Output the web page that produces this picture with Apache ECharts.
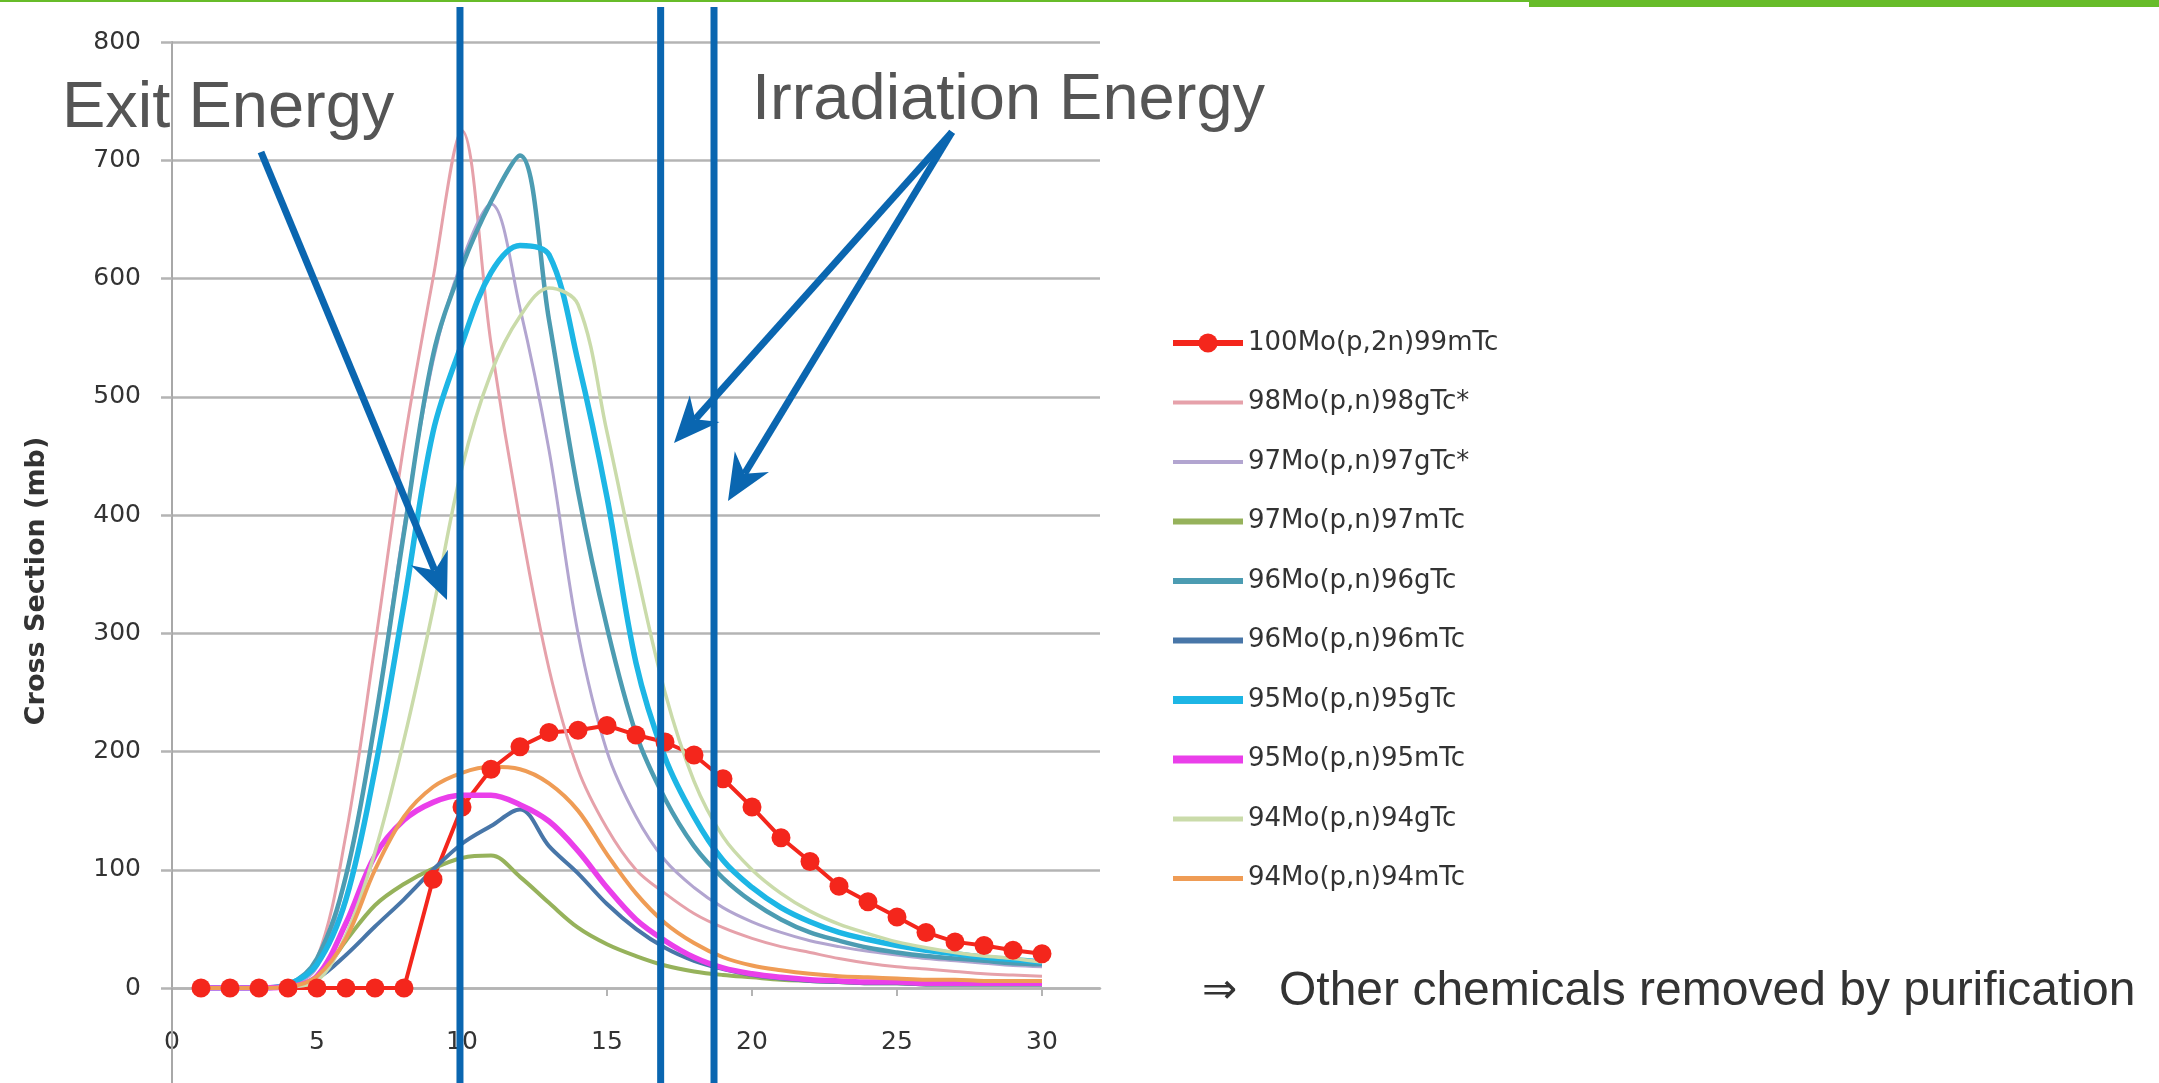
<!DOCTYPE html>
<html>
<head>
<meta charset="utf-8">
<title>Mo(p,x)Tc cross sections</title>
<script src="https://cdn.jsdelivr.net/npm/echarts@6/dist/echarts.min.js"></script>
<style>
  html, body { margin: 0; padding: 0; background: #fff; }
  #chart { width: 2159px; height: 1083px; }
</style>
</head>
<body>
<div id="chart"></div>
<script>
// proton energy (MeV) and cross sections (mb)
var energy = [1, 2, 3, 4, 5, 6, 7, 8, 9, 10, 11, 12, 13, 14, 15, 16, 17, 18, 19, 20, 21, 22, 23, 24, 25, 26, 27, 28, 29, 30];
var xTicks = [0, 5, 10, 15, 20, 25, 30];

var seriesNames = ['100Mo(p,2n)99mTc', '98Mo(p,n)98gTc*', '97Mo(p,n)97gTc*', '97Mo(p,n)97mTc', '96Mo(p,n)96gTc',
    '96Mo(p,n)96mTc', '95Mo(p,n)95gTc', '95Mo(p,n)95mTc', '94Mo(p,n)94gTc', '94Mo(p,n)94mTc'];

var mo100_99m = [0, 0, 0, 0, 0, 0, 0, 0, 92, 153, 185, 204, 216, 218, 222, 214, 208, 197, 177, 153, 127, 107, 86, 73, 60, 47, 39, 36, 32, 29];
var mo98_98g = [0, 0, 0, 2, 25, 130, 290, 460, 600, 725, 545, 395, 270, 185, 135, 100, 80, 63, 51, 42, 35, 30, 25, 21, 18, 16, 14, 12, 11, 10];
var mo97_97g = [0, 0, 0, 2, 18, 95, 225, 390, 530, 615, 663, 575, 455, 300, 200, 145, 108, 85, 68, 56, 47, 40, 35, 31, 28, 25, 23, 21, 19, 18];
var mo97_97m = [0, 0, 0, 1, 8, 40, 70, 88, 101, 110, 112, 94, 72, 51, 37, 27, 19, 14, 11, 9, 7, 6, 5, 4, 4, 3, 3, 3, 3, 3];
var mo96_96g = [0, 0, 0, 3, 25, 95, 225, 385, 535, 610, 665, 704, 565, 420, 305, 215, 160, 120, 93, 73, 58, 47, 40, 34, 30, 27, 25, 23, 21, 20];
var mo96_96m = [0, 0, 0, 1, 8, 28, 52, 75, 100, 122, 137, 151, 120, 97, 71, 50, 34, 23, 16, 11, 8, 6, 5, 4, 4, 3, 3, 3, 3, 3];
var mo95_95g = [0, 0, 0, 3, 20, 75, 185, 325, 470, 545, 605, 628, 620, 530, 415, 275, 195, 145, 108, 85, 68, 56, 47, 41, 36, 32, 29, 26, 24, 22];
var mo95_95m = [0, 0, 0, 1, 10, 55, 112, 142, 157, 163, 163, 155, 141, 116, 85, 58, 40, 26, 17, 12, 9, 7, 6, 5, 5, 4, 4, 4, 4, 4];
var mo94_94g = [0, 0, 0, 1, 6, 45, 115, 210, 320, 440, 520, 568, 592, 578, 470, 355, 250, 175, 128, 100, 80, 65, 54, 46, 39, 34, 30, 27, 25, 22];
var mo94_94m = [0, 0, 0, 1, 10, 42, 100, 145, 170, 182, 187, 185, 173, 150, 113, 80, 55, 38, 26, 19, 15, 12, 10, 9, 8, 7, 7, 6, 6, 6];

// exit energy and the two irradiation energies marked on the slide
var markEnergy = [9.93, 16.85, 18.69];

var allValues = [mo100_99m, mo98_98g, mo97_97g, mo97_97m, mo96_96g, mo96_96m, mo95_95g, mo95_95m, mo94_94g, mo94_94m];
var colors = ['#F4261C', '#E6A1AA', '#B2A5D0', '#96B25B', '#4C9CB2', '#4876A8', '#1DB6E5', '#EA3FEA', '#CADBAA', '#EF9C55'];
var widths = [4, 3, 3, 4, 4.5, 4, 5.5, 5.5, 3.5, 4];
var legendThick = [0, 4, 4, 6, 6, 6, 8, 8, 5, 5];

var BLUE = '#0A66B0';
var FONT = 'DejaVu Sans';

function makeSeries() {
    var out = [];
    allValues.forEach(function (vals, i) {
        var s = {
            name: seriesNames[i],
            type: 'line',
            data: energy.map(function (e, k) { return [e, vals[k]]; }),
            itemStyle: { color: colors[i] },
            lineStyle: { color: colors[i], width: widths[i] },
            emphasis: { disabled: true }
        };
        if (i === 0) {
            s.symbol = 'circle';
            s.symbolSize = 19;
            s.smooth = false;
        } else {
            s.symbol = 'none';
            s.smooth = 0.35;
        }
        out.push(s);
    });
    return out;
}

function legendData() {
    return seriesNames.map(function (n, i) {
        if (i === 0) return { name: n };
        return { name: n, icon: 'path://M0,0H70V' + legendThick[i] + 'H0Z' };
    });
}

// arrow drawn as a shaft plus a stealth head, pixel coords of the slide
function arrow(x1, y1, x2, y2) {
    var dx = x2 - x1, dy = y2 - y1;
    var len = Math.sqrt(dx * dx + dy * dy);
    var ux = dx / len, uy = dy / len;
    var px = -uy, py = ux;
    var L = 46, W = 20, N = 32;
    return [{
        type: 'polyline', z: 100,
        shape: { points: [[x1, y1], [x2 - N * ux, y2 - N * uy]] },
        style: { stroke: BLUE, lineWidth: 7, fill: null }
    }, {
        type: 'polygon', z: 100,
        shape: { points: [[x2, y2], [x2 - L * ux + W * px, y2 - L * uy + W * py],
            [x2 - N * ux, y2 - N * uy], [x2 - L * ux - W * px, y2 - L * uy - W * py]] },
        style: { fill: BLUE }
    }];
}

var chart = echarts.init(document.getElementById('chart'));

var option = {
    animation: false,
    backgroundColor: '#fff',
    grid: { left: 172, right: 1059, top: 42, bottom: 95 },
    legend: {
        orient: 'vertical',
        left: 1165,
        top: 325,
        itemWidth: 70,
        itemHeight: 24,
        itemGap: 33.5,
        selectedMode: false,
        lineStyle: { width: 6 },
        textStyle: { fontFamily: FONT, fontSize: 26, color: '#333333' },
        data: legendData()
    },
    xAxis: {
        type: 'value',
        min: 0,
        max: 32,
        interval: 5,
        axisLine: { show: true, lineStyle: { color: '#B4B4B4', width: 2.5 } },
        axisTick: { show: true, length: 8, customValues: xTicks, lineStyle: { color: '#B4B4B4', width: 2 } },
        axisLabel: { customValues: xTicks, margin: 42, fontFamily: FONT, fontSize: 25, color: '#333333' },
        splitLine: { show: false }
    },
    yAxis: {
        type: 'value',
        min: 0,
        max: 800,
        interval: 100,
        axisLine: { show: true, lineStyle: { color: '#A8A8A8', width: 2 } },
        axisTick: { show: true, length: 11, lineStyle: { color: '#B4B4B4', width: 2.5 } },
        axisLabel: { margin: 31, fontFamily: FONT, fontSize: 25, color: '#333333' },
        splitLine: { show: true, lineStyle: { color: '#B4B4B4', width: 2.5 } }
    },
    series: makeSeries()
};

chart.setOption(option);

// annotations placed after the axes exist
var zero = chart.convertToPixel({ gridIndex: 0 }, [0, 0]);
var graphics = [
    { type: 'rect', z: 100, shape: { x: 0, y: 0, width: 1529, height: 2 }, style: { fill: '#67BC29' } },
    { type: 'rect', z: 100, shape: { x: 1529, y: 0, width: 630, height: 7 }, style: { fill: '#67BC29' } },
    { type: 'line', z: 1, shape: { x1: zero[0], y1: zero[1], x2: zero[0], y2: 1083 },
        style: { stroke: '#A8A8A8', lineWidth: 2 } },
    { type: 'text', z: 100, x: 37, y: 581, rotation: Math.PI / 2,
        style: { text: 'Cross Section (mb)', fontFamily: FONT, fontSize: 27, fontWeight: 'bold',
            fill: '#333333', align: 'center', verticalAlign: 'middle' } },
    { type: 'text', z: 100, x: 62, y: 109,
        style: { text: 'Exit Energy', fontFamily: 'Liberation Sans', fontSize: 65, fill: '#555555',
            align: 'left', verticalAlign: 'middle' } },
    { type: 'text', z: 100, x: 752, y: 101,
        style: { text: 'Irradiation Energy', fontFamily: 'Liberation Sans', fontSize: 65, fill: '#555555',
            align: 'left', verticalAlign: 'middle' } },
    { type: 'text', z: 100, x: 1202, y: 992,
        style: { text: '\u21D2', fontFamily: FONT, fontSize: 42, fill: '#333333',
            align: 'left', verticalAlign: 'middle' } },
    { type: 'text', z: 100, x: 1279, y: 992,
        style: { text: 'Other chemicals removed by purification', fontFamily: 'Liberation Sans', fontSize: 48,
            fill: '#333333', align: 'left', verticalAlign: 'middle' } }
];

markEnergy.forEach(function (e) {
    var x = chart.convertToPixel({ gridIndex: 0 }, [e, 0])[0];
    graphics.push({ type: 'line', z: 100, shape: { x1: x, y1: 7, x2: x, y2: 1083 },
        style: { stroke: BLUE, lineWidth: 7 } });
});

graphics = graphics.concat(arrow(261, 152, 447, 600));
graphics = graphics.concat(arrow(952, 132, 674, 443));
graphics = graphics.concat(arrow(952, 132, 728, 501));

chart.setOption({ graphic: graphics });
</script>
</body>
</html>
